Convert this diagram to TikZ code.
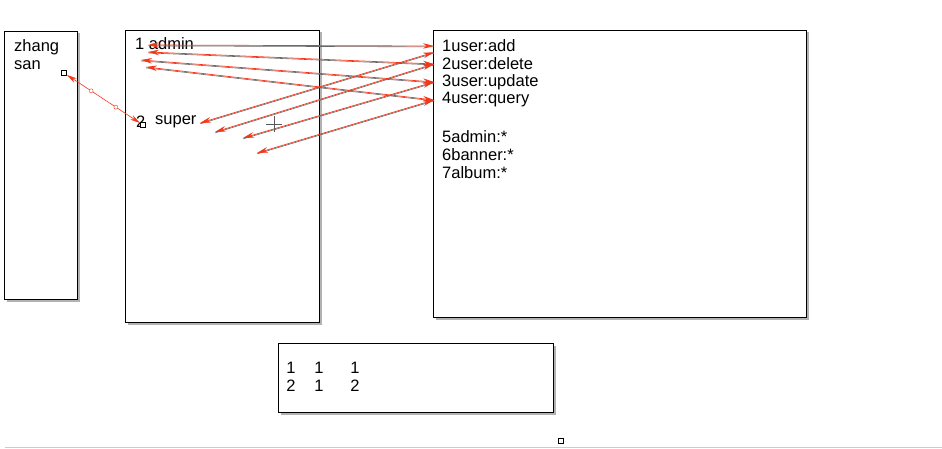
\documentclass[tikz,border=0pt]{standalone}
\usepackage{fontspec}
\setmainfont{Liberation Sans}
\usetikzlibrary{arrows.meta,shadows}
\definecolor{linkred}{RGB}{245,55,25}
\tikzset{
	box/.style={draw, fill=white, line width=0.9pt, drop shadow={shadow xshift=2.5pt, shadow yshift=-2.5pt, opacity=0.3, fill=black}},
	label/.style={inner sep=0pt, font=\fontsize{16.5}{18.5}\selectfont},
	perm/.style={label, anchor=west, inner xsep=8pt},
	link/.style={draw=linkred, line width=0.7pt, {Stealth[length=11pt,width=5.5pt]}-{Stealth[length=11pt,width=5.5pt]}, preaction={draw=gray!80!black, line width=0.6pt, -, transform canvas={yshift=-0.9pt}}},
	handle/.style={draw, fill=white, line width=0.6pt, minimum size=5.5pt, inner sep=0pt},
	ring/.style={draw, circle, fill=white, line width=0.4pt, minimum size=4pt, inner sep=0pt},
}
\begin{document}
\begin{tikzpicture}[x=1pt,y=-1pt]
	\useasboundingbox (0,0) rectangle (942,449);
	% three boxes and the table
	\draw[box] (4,31) rectangle (77,299);
	\draw[box] (125,30) rectangle (319,322);
	\draw[box] (433,30) rectangle (806,317);
	\draw[box] (278,343) rectangle (553,412);
	% user
	\node[label, anchor=north west, align=left] (user) at (14,39) {zhang\\san};
	% roles
	\node[label, anchor=west] (admin) at (135,44) {1 admin};
	\node[label, anchor=west] (two) at (136,122) {2};
	\node[label, anchor=west] (super) at (155,122) {super};
	% permissions
	\node[perm] (p1) at (434,46) {1user:add};
	\node[perm] (p2) at (434,64) {2user:delete};
	\node[perm] (p3) at (434,82) {3user:update};
	\node[perm] (p4) at (434,100) {4user:query};
	\node[perm] (p5) at (434,137) {5admin:*};
	\node[perm] (p6) at (434,155) {6banner:*};
	\node[perm] (p7) at (434,173) {7album:*};
	% table rows
	\node[label] (t11) at (291,368) {1};
	\node[label] (t12) at (319,368) {1};
	\node[label] (t13) at (355,368) {1};
	\node[label] (t21) at (291,386) {2};
	\node[label] (t22) at (319,386) {1};
	\node[label] (t23) at (355,386) {2};
	% free ends of the connectors
	\coordinate (a1) at (148,45);
	\coordinate (a2) at (148,52);
	\coordinate (a3) at (141,60);
	\coordinate (a4) at (146,67);
	\coordinate (s1) at (200,123);
	\coordinate (s2) at (215,132);
	\coordinate (s3) at (243,138);
	\coordinate (s4) at (257,153);
	\draw[link] (a1) -- (p1.west);
	\draw[link] (a2) -- (p2.west);
	\draw[link] (a3) -- (p3.west);
	\draw[link] (a4) -- (p4.west);
	\draw[link] (s1) -- (p1.south west);
	\draw[link] (s2) -- (p2.west);
	\draw[link] (s3) -- (p3.west);
	\draw[link] (s4) -- (p4.west);
	% user to role
	\node[handle] (h1) at (64,73) {};
	\node[handle] (h2) at (143,125) {};
	\draw[draw=linkred, line width=0.6pt, {Stealth[length=10pt,width=5pt]}-{Stealth[length=10pt,width=5pt]}] (h1) -- (h2)
		node[ring, pos=0.33] (r1) {} node[ring, pos=0.67] (r2) {};
	% cursor
	\draw[line width=0.5pt, gray!70!black] (266,124) -- (282,124);
	\draw[line width=0.5pt, gray!70!black] (274,116) -- (274,132);
	% bottom edge
	\draw[gray!40, line width=0.8pt] (5,447) -- (942,447);
	\node[handle, minimum size=4.5pt] (h3) at (561,441) {};
\end{tikzpicture}
\end{document}
